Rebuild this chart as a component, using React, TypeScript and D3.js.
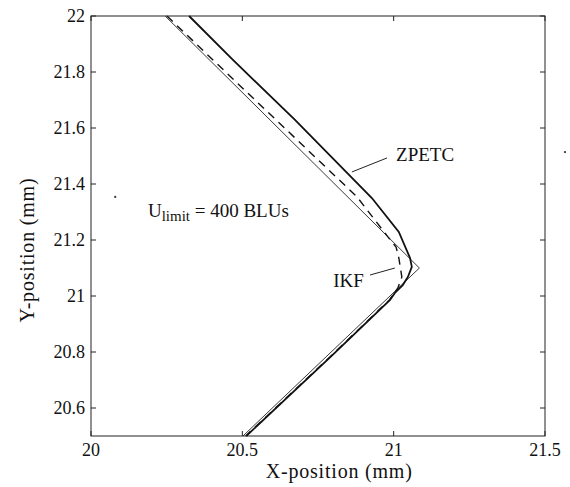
import * as d3 from "d3";

// axis ticks
const xTicks = [20, 20.5, 21, 21.5];
const yTicks = [20.6, 20.8, 21, 21.2, 21.4, 21.6, 21.8, 22];

// commanded path (thin solid)
const refX = [20.245, 21.085, 20.502];
const refY = [22, 21.1, 20.5];

// ZPETC response (thick solid)
const zpetcX = [20.324, 20.469, 20.674, 20.928, 21.017, 21.054, 21.06, 21.047, 21.03, 21.004, 20.988, 20.795, 20.513];
const zpetcY = [22, 21.843, 21.629, 21.35, 21.229, 21.136, 21.104, 21.068, 21.039, 21.011, 20.986, 20.786, 20.5];

// IKF response (dashed)
const ikfX = [20.251, 20.403, 20.879, 20.981, 21.008, 21.017, 21.027, 21.014, 20.986, 20.793, 20.511];
const ikfY = [22, 21.843, 21.354, 21.211, 21.175, 21.136, 21.068, 21.029, 20.986, 20.786, 20.5];

// specks on the scan
const speckX = [20.08, 21.566];
const speckY = [21.354, 21.514];

const W = 570;
const H = 487;
const margin = { top: 16, right: 25, bottom: 51, left: 91 };
const font = "'Liberation Serif', 'Times New Roman', serif";

export default function App() {
  const x = d3.scaleLinear().domain([20, 21.5]).range([margin.left, W - margin.right]);
  const y = d3.scaleLinear().domain([20.5, 22]).range([H - margin.bottom, margin.top]);

  const line = d3
    .line<[number, number]>()
    .x((d) => x(d[0]))
    .y((d) => y(d[1]));

  const pts = (xs: number[], ys: number[]) => xs.map((v, i) => [v, ys[i]] as [number, number]);

  const x0 = x.range()[0];
  const x1 = x.range()[1];
  const y0 = y.range()[0];
  const y1 = y.range()[1];
  const tickLen = 5;

  return (
    <svg
      width={W}
      height={H}
      style={{ position: "absolute", left: 0, top: 0, background: "white" }}
      fontFamily={font}
    >
      {/* frame */}
      <rect x={x0} y={y1} width={x1 - x0} height={y0 - y1} fill="none" stroke="#222" strokeWidth={1} />

      {/* x ticks, bottom and top, inward */}
      {xTicks.map((t) => (
        <g key={"x" + t}>
          <line x1={x(t)} x2={x(t)} y1={y0} y2={y0 - tickLen} stroke="#222" />
          <line x1={x(t)} x2={x(t)} y1={y1} y2={y1 + tickLen} stroke="#222" />
          <text x={x(t)} y={y0 + 20} textAnchor="middle" fontSize={18} fill="#111">
            {t}
          </text>
        </g>
      ))}

      {/* y ticks, left and right, inward */}
      {yTicks.map((t) => (
        <g key={"y" + t}>
          <line x1={x0} x2={x0 + tickLen} y1={y(t)} y2={y(t)} stroke="#222" />
          <line x1={x1} x2={x1 - tickLen} y1={y(t)} y2={y(t)} stroke="#222" />
          <text x={x0 - 6} y={y(t) + 6} textAnchor="end" fontSize={18} fill="#111">
            {t}
          </text>
        </g>
      ))}

      {/* axis labels */}
      <text x={x(20.82)} y={H - 9} textAnchor="middle" fontSize={20} letterSpacing={0.8} fill="#111">
        X-position (mm)
      </text>
      <text
        transform={`translate(34,250) rotate(-90)`}
        textAnchor="middle"
        fontSize={20}
        letterSpacing={0.8}
        fill="#111"
      >
        Y-position (mm)
      </text>

      {/* curves */}
      <path d={line(pts(refX, refY)) ?? ""} fill="none" stroke="#222" strokeWidth={0.9} />
      <path d={line(pts(ikfX, ikfY)) ?? ""} fill="none" stroke="#111" strokeWidth={1.4} strokeDasharray="8,6" />
      <path d={line(pts(zpetcX, zpetcY)) ?? ""} fill="none" stroke="#111" strokeWidth={1.8} />

      {/* annotations */}
      <line x1={x(20.978)} y1={y(21.493)} x2={x(20.862)} y2={y(21.443)} stroke="#222" strokeWidth={1} />
      <text x={x(21.008)} y={y(21.482)} fontSize={19} fill="#111">
        ZPETC
      </text>

      <line x1={x(20.922)} y1={y(21.075)} x2={x(21.004)} y2={y(21.1)} stroke="#222" strokeWidth={1} />
      <text x={x(20.8)} y={y(21.032)} fontSize={19} fill="#111">
        IKF
      </text>

      <text x={x(20.188)} y={y(21.282)} fontSize={19} fill="#111">
        U
        <tspan fontSize={15} dy={4}>
          limit
        </tspan>
        <tspan dy={-4}> = 400 BLUs</tspan>
      </text>

      {speckX.map((v, i) => (
        <circle key={i} cx={x(v)} cy={y(speckY[i])} r={1.1} fill="#333" />
      ))}
    </svg>
  );
}
